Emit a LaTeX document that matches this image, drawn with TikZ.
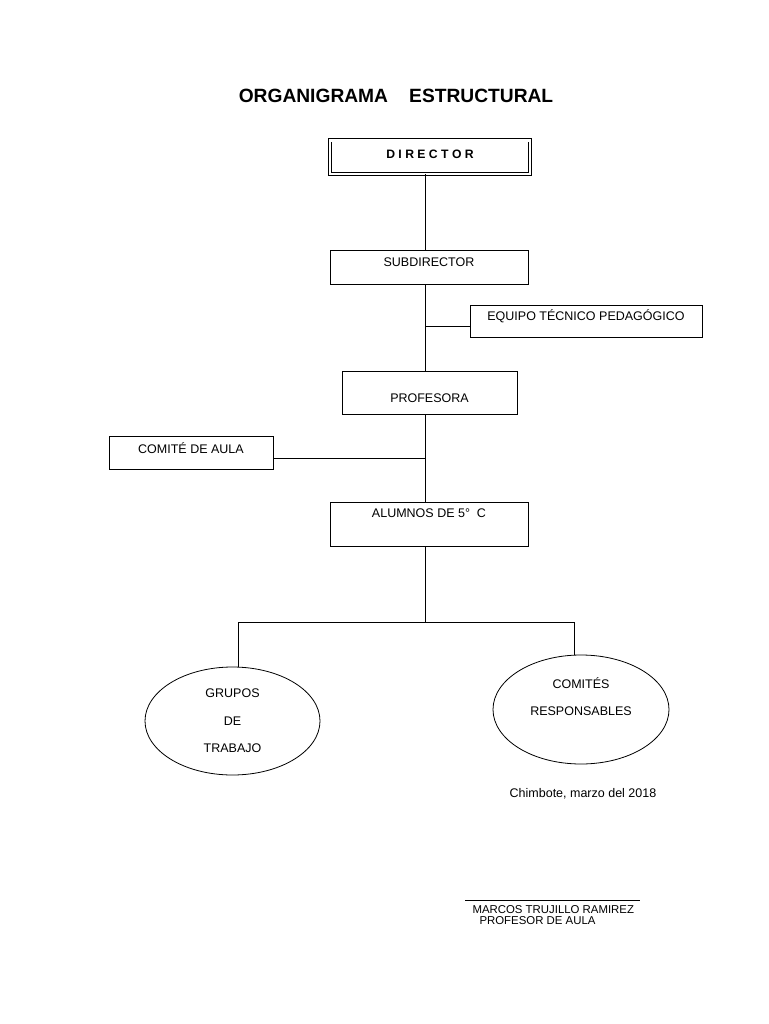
\documentclass[tikz,border=0pt]{standalone}
\usepackage{fontspec}
\setmainfont{Liberation Sans}
\usetikzlibrary{shapes.geometric, positioning}

\tikzset{
  caja/.style={draw, rectangle, inner sep=0pt, line width=0.8pt, anchor=north,
    font=\fontsize{12.5}{15}\selectfont},
  ovalo/.style={draw, ellipse, inner sep=0pt, line width=0.8pt},
  rotulo/.style={align=center, font=\fontsize{12.5}{27.5}\selectfont},
  linea/.style={line width=0.8pt},
}

\begin{document}
\begin{tikzpicture}[x=1pt, y=-1pt]
\useasboundingbox (0,0) rectangle (768,1024);
\def\xTronco{425}
\def\yBarra{622}

\coordinate (tronco) at (\xTronco,0);
\coordinate (jEq) at (\xTronco,326);
\coordinate (jCda) at (\xTronco,458);
\coordinate (barI) at (238,\yBarra);
\coordinate (barD) at (574,\yBarra);

% titulo
\node[anchor=base, font=\bfseries\fontsize{19.2}{22}\selectfont] (titulo) at (396,103)
  {ORGANIGRAMA\hspace{1.1em}ESTRUCTURAL};

% cajas
\node[caja, double, double distance=2.6pt, minimum width=200pt, text height=18pt, text depth=15.5pt,
  font=\bfseries\fontsize{12.2}{14}\selectfont] (dir) at (430,140) {D I R E C T O R};
\node[caja, minimum width=198pt, text height=16pt, text depth=18pt] (sub) at (429,250) {SUBDIRECTOR};
\node[caja, minimum width=232pt, text height=15pt, text depth=17pt] (eq) at (586,305) {EQUIPO TÉCNICO PEDAGÓGICO};
\node[caja, minimum width=175pt, text height=31pt, text depth=12pt] (prof) at (429.5,371) {PROFESORA};
\node[caja, minimum width=164pt, text height=17pt, text depth=16pt] (cda) at (191,436) {COMITÉ DE AULA};
\node[caja, minimum width=198pt, text height=15pt, text depth=29pt] (al) at (429,502) {ALUMNOS DE 5°\ \ C};

% ovalos
\node[ovalo, minimum width=175pt, minimum height=108pt,
  label={[rotulo]center:GRUPOS\\DE\\TRABAJO}] (gt) at (232.5,721) {};
\node[ovalo, minimum width=176pt, minimum height=109pt,
  label={[rotulo, yshift=13pt]center:COMITÉS\\RESPONSABLES}] (cr) at (581,709.5) {};

% conectores
\draw[linea] (dir.south -| tronco) -- (sub.north -| tronco);
\draw[linea] (sub.south -| tronco) -- (prof.north -| tronco);
\draw[linea] (jEq) -- (jEq -| eq.west);
\draw[linea] (prof.south -| tronco) -- (al.north -| tronco);
\draw[linea] (jCda) -- (jCda -| cda.east);
\draw[linea] (al.south -| tronco) -- (tronco |- barI);
\draw[linea] (barI |- gt.north) -- (barI) -- (barD) -- (barD |- cr.north);

% pie
\node[anchor=base, font=\fontsize{12.5}{15}\selectfont] (fecha) at (583,797) {Chimbote, marzo del 2018};
\coordinate (firmaI) at (465,900);
\coordinate (firmaD) at (640,900);
\draw[line width=0.6pt] (firmaI) -- (firmaD);
\node[anchor=base west, font=\fontsize{11.4}{13}\selectfont] (nombre) at (469,913) {MARCOS TRUJILLO RAMIREZ};
\node[anchor=base west, font=\fontsize{11.4}{13}\selectfont] (cargo) at (476,924) {PROFESOR DE AULA};
\end{tikzpicture}
\end{document}
